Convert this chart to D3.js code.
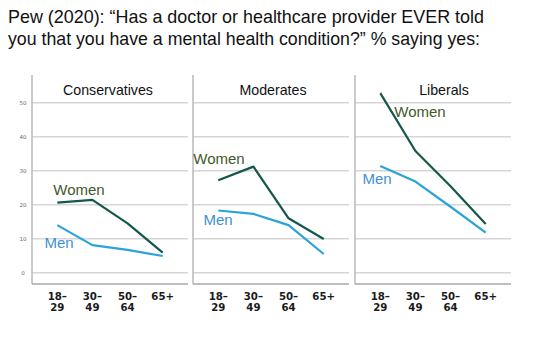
<!DOCTYPE html>
<html>
<head>
<meta charset="utf-8">
<script src="https://cdn.jsdelivr.net/npm/d3@7"></script>
<style>
  html, body { margin: 0; padding: 0; background: #fff; }
  svg { display: block; }
</style>
</head>
<body>
<svg id="chart" width="548" height="340"></svg>
<script>
// Share of adults ever told they have a mental health condition, by ideology, sex and age
const groups = ["Conservatives", "Moderates", "Liberals"];
const ageGroups = ["18–29", "30–49", "50–64", "65+"];
const women = [
  [20.6, 21.4, 14.5, 5.9],
  [27.2, 31.2, 16.0, 9.9],
  [52.8, 35.8, 25.4, 14.3]
];
const men = [
  [14.0, 8.1, 6.7, 4.9],
  [18.3, 17.3, 14.0, 5.5],
  [31.4, 26.8, 19.4, 11.8]
];
const yTicks = [0, 10, 20, 30, 40, 50];
const titleLines = [
  "Pew (2020): \u201cHas a doctor or healthcare provider EVER told",
  "you that you have a mental health condition?\u201d % saying yes:"
];

// layout
const titleWidths = [476, 472];
const panelLeft = [32, 193, 355];
const panelWidth = 156;
const axisTop = 75, axisBottom = 284;
const headingOffset = [76, 80, 89];
// series label placement per panel: [dx from panel left, value height]
const womenLabelAt = [[47, 22.8], [26, 32.0], [65, 45.9]];
const menLabelAt = [[27, 7.3], [25, 14.0], [22, 26.0]];

const colWomen = "#14574b", colMen = "#2aa3d8";
const txtWomen = "#3f5a2a", txtMen = "#3f8fd2";

const svg = d3.select("#chart");

svg.append("g").selectAll("text").data(titleLines).join("text")
  .attr("x", 8).attr("y", (d, i) => 23.3 + i * 21.2)
  .attr("font-family", "Liberation Sans, Arial, sans-serif")
  .attr("font-size", 18.4).attr("fill", "#111")
  .attr("textLength", (d, i) => titleWidths[i])
  .attr("lengthAdjust", "spacingAndGlyphs")
  .text(d => d);

const y = d3.scaleLinear().domain([0, 50]).range([272.7, 102.7]);

groups.forEach((name, gi) => {
  const g = svg.append("g").attr("transform", `translate(${panelLeft[gi]},0)`);
  const x = d3.scalePoint().domain(ageGroups).range([0, panelWidth]).padding(0.72);

  // horizontal grid
  g.append("g").selectAll("line").data(yTicks).join("line")
    .attr("x1", 0).attr("x2", panelWidth)
    .attr("y1", d => y(d)).attr("y2", d => y(d))
    .attr("stroke", "#d6d6d6").attr("stroke-width", 1.4);

  // panel frame: left and bottom edges
  g.append("line").attr("x1", 0).attr("x2", 0).attr("y1", axisTop).attr("y2", axisBottom)
    .attr("stroke", "#b5b5b5").attr("stroke-width", 1.4);
  g.append("line").attr("x1", 0).attr("x2", panelWidth).attr("y1", axisBottom).attr("y2", axisBottom)
    .attr("stroke", "#a8a8a8").attr("stroke-width", 1.6);

  if (gi === 0) {
    g.append("g").selectAll("text").data(yTicks).join("text")
      .attr("x", -9).attr("y", d => y(d) + 2)
      .attr("text-anchor", "middle")
      .attr("font-family", "DejaVu Sans, sans-serif")
      .attr("font-size", 5.5).attr("fill", "#666")
      .text(d => d);
  }

  // age-group tick labels, split on the dash into two rows
  const rows = ageGroups.flatMap(d => {
    const parts = d.includes("–") ? [d.split("–")[0] + "–", d.split("–")[1]] : [d];
    return parts.map((p, i) => ({ key: d, text: p, row: i }));
  });
  g.append("g").selectAll("text").data(rows).join("text")
    .attr("x", d => x(d.key)).attr("y", d => 299.5 + d.row * 11)
    .attr("text-anchor", "middle")
    .attr("font-family", "DejaVu Sans, sans-serif")
    .attr("font-size", 10.2).attr("font-weight", 600).attr("fill", "#1a1a1a")
    .text(d => d.text);

  // heading
  g.append("text").attr("x", headingOffset[gi]).attr("y", 95)
    .attr("text-anchor", "middle")
    .attr("font-family", "Liberation Sans, Arial, sans-serif")
    .attr("font-size", 14.2).attr("fill", "#111")
    .text(name);

  const line = d3.line().x((d, i) => x(ageGroups[i])).y(d => y(d));

  g.append("path").datum(men[gi]).attr("d", line)
    .attr("fill", "none").attr("stroke", colMen).attr("stroke-width", 2.2)
    .attr("stroke-linejoin", "round");
  g.append("path").datum(women[gi]).attr("d", line)
    .attr("fill", "none").attr("stroke", colWomen).attr("stroke-width", 2.2)
    .attr("stroke-linejoin", "round");

  g.append("text").attr("x", womenLabelAt[gi][0]).attr("y", y(womenLabelAt[gi][1]))
    .attr("text-anchor", "middle")
    .attr("font-family", "Liberation Sans, Arial, sans-serif")
    .attr("font-size", 15).attr("fill", txtWomen).text("Women");
  g.append("text").attr("x", menLabelAt[gi][0]).attr("y", y(menLabelAt[gi][1]))
    .attr("text-anchor", "middle")
    .attr("font-family", "Liberation Sans, Arial, sans-serif")
    .attr("font-size", 15).attr("fill", txtMen).text("Men");
});
</script>
</body>
</html>
